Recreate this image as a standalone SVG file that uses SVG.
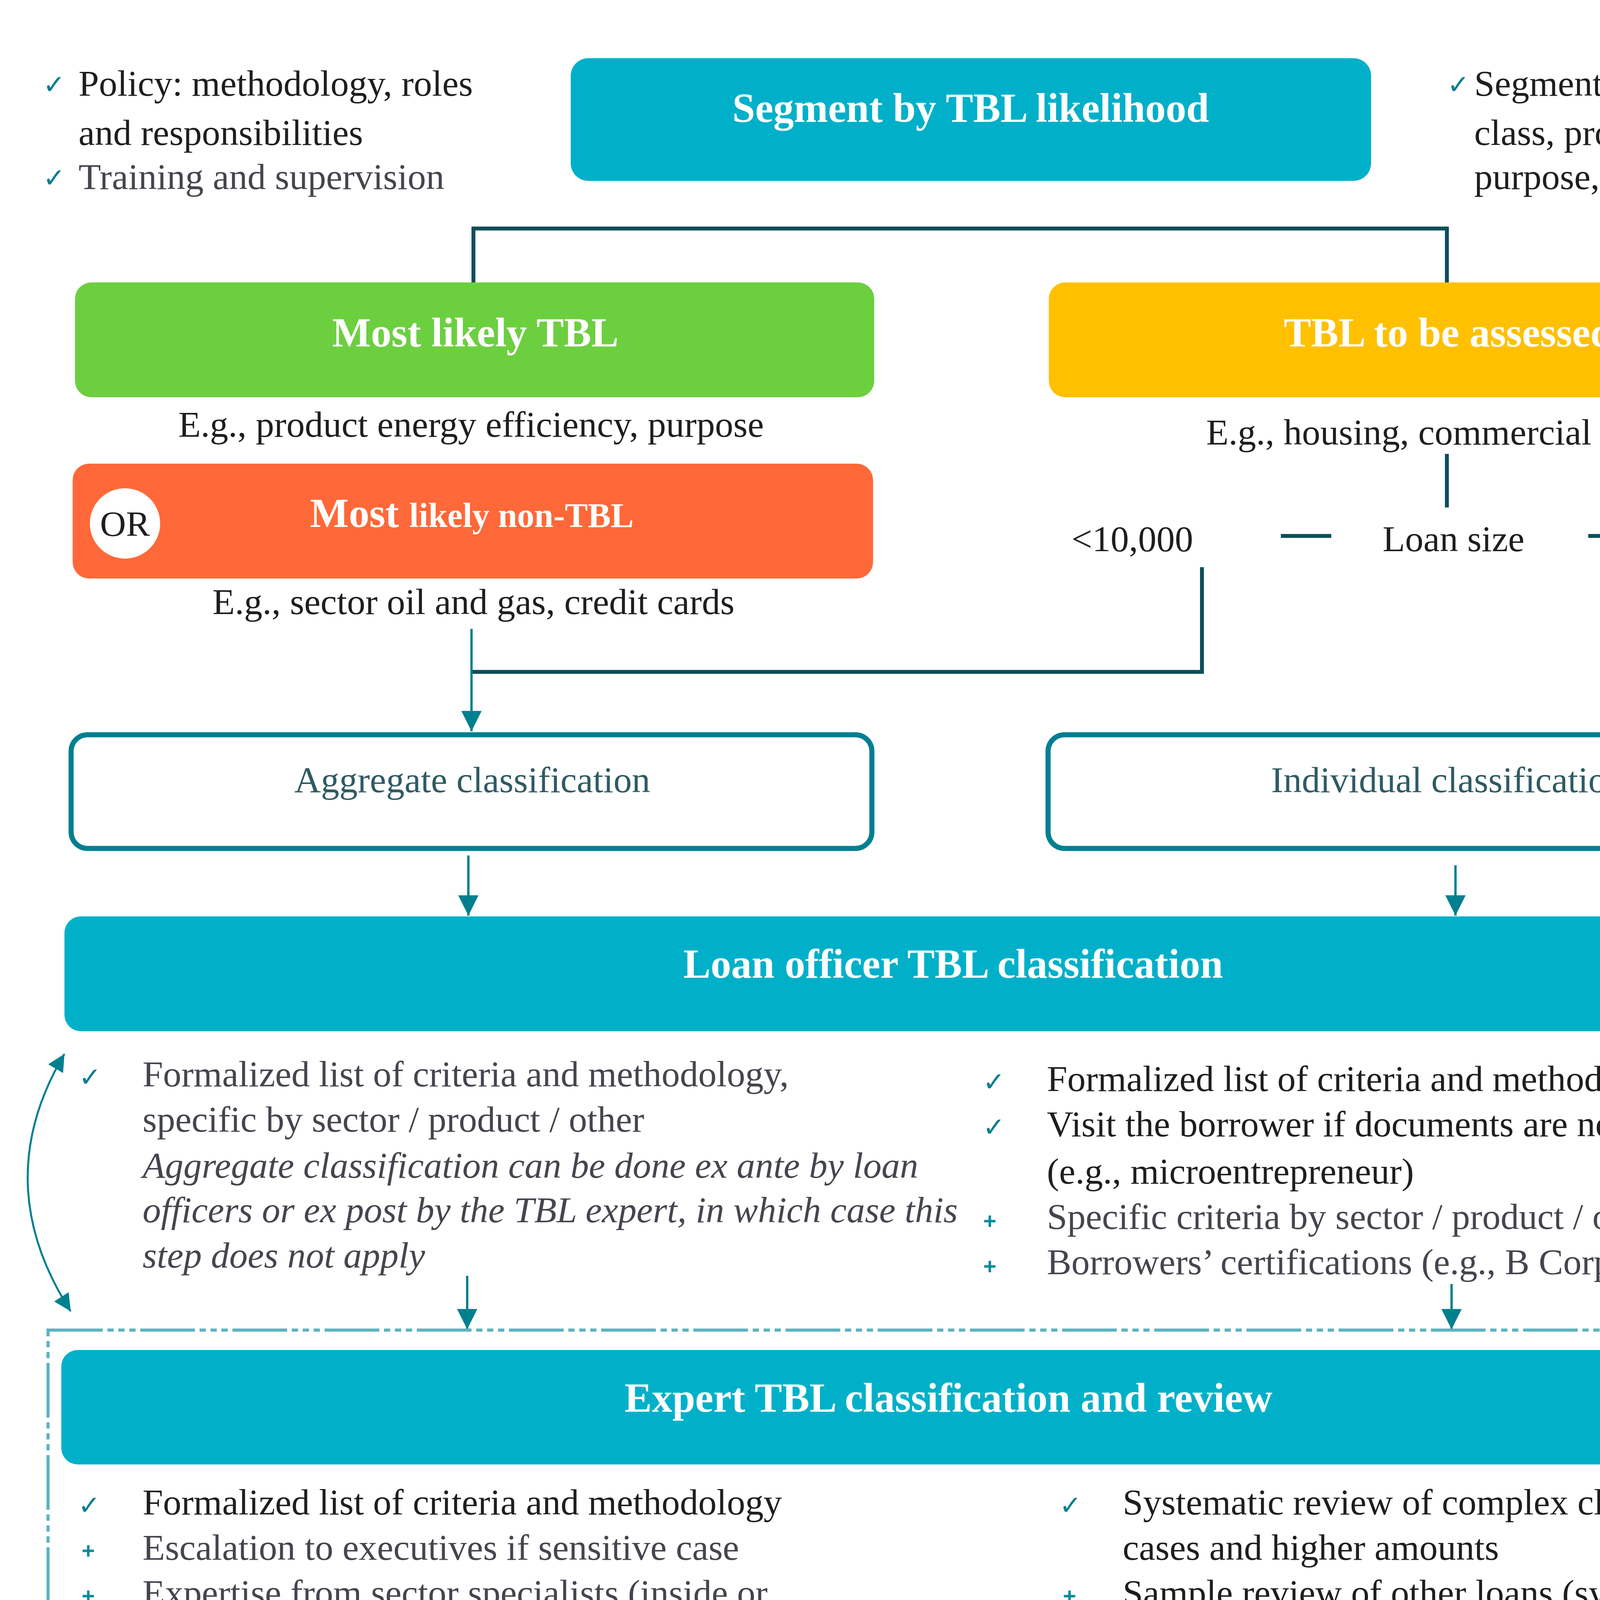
<svg xmlns="http://www.w3.org/2000/svg" width="4936" height="5988" viewBox="0 0 4936 5988">
<style>
text { font-family: "Liberation Serif", "DejaVu Serif", serif; }
.title { font-size: 105px; font-weight: bold; fill: #ffffff; text-anchor: middle; }
.b { font-size: 94px; fill: #1e1e1e; }
.g { font-size: 94px; fill: #45454f; }
.it { font-style: italic; }
.mid { text-anchor: middle; }
.chk { font-family: "DejaVu Sans", sans-serif; font-size: 68px; fill: #0a7f8f; }
.plus { font-family: "Liberation Sans", sans-serif; font-size: 58px; font-weight: bold; fill: #0a8a9a; text-anchor: middle; }
.outl { fill: #ffffff; stroke: #007f91; stroke-width: 13; }
.teal { fill: #00b0c9; }
.dark { fill: none; stroke: #0c4f5b; stroke-width: 10; }
.arr { fill: none; stroke: #00808f; stroke-width: 6; marker-end: url(#ah); }
.cur { fill: none; stroke: #00808f; stroke-width: 5; marker-end: url(#ah2); marker-start: url(#ah2); }
</style>
<defs>
<marker id="ah" viewBox="0 0 10 10" refX="10" refY="5" markerUnits="userSpaceOnUse" markerWidth="58" markerHeight="52" orient="auto-start-reverse">
<path d="M0,0 L10,5 L0,10 z" fill="#00808f"/>
</marker>
<marker id="ah2" viewBox="0 0 10 10" refX="10" refY="5" markerUnits="userSpaceOnUse" markerWidth="50" markerHeight="44" orient="auto-start-reverse">
<path d="M0,0 L10,5 L0,10 z" fill="#00808f"/>
</marker>
</defs>
<rect width="4936" height="5988" fill="#ffffff"/>

<g id="connectors">
<path class="dark" d="M1212,723 V585 H3704 V723"/>
<path class="dark" d="M3704,1162 V1299"/>
<path class="dark" d="M3279,1372 H3408 M4066,1372 H4195"/>
<path class="dark" d="M3077,1452 V1720 H1207"/>
<path class="arr" d="M1207,1610 V1872"/>
<path class="arr" d="M4425,1481 V1872"/>
<path class="arr" d="M1199,2190 V2344"/>
<path class="arr" d="M3726,2215 V2344"/>
<path class="cur" d="M165,2698 Q-31,3027 181,3357"/>
<path class="cur" d="M4758,2698 Q4927,3025 4735,3353"/>
<path class="arr" d="M1196,3266 V3403"/>
<path class="arr" d="M3716,3287 V3403"/>
<path d="M661,4304 V4574" fill="none" stroke="#0c4f5b" stroke-width="4" stroke-dasharray="26 8"/>
<path class="dark" d="M3711,4296 V4412 H1193"/>
<path class="arr" d="M2450,4412 V4595"/>
<path class="arr" d="M2455,4919 V5082"/>
</g>

<g id="note-policy">
<text class="chk" x="110" y="240">✓</text>
<text class="b" x="201" y="245">Policy: methodology, roles</text>
<text class="b" x="201" y="371">and responsibilities</text>
<text class="chk" x="110" y="479">✓</text>
<text class="g" x="201" y="484">Training and supervision</text>
</g>

<g id="node-segment">
<rect class="teal" x="1461" y="149" width="2049" height="314" rx="45"/>
<text class="title" x="2485" y="312">Segment by TBL likelihood</text>
</g>

<g id="note-segment">
<text class="chk" x="3705" y="240">✓</text>
<text class="b" x="3774" y="245">Segment assets by asset</text>
<text class="b" x="3774" y="371">class, product, sector,</text>
<text class="b" x="3774" y="484">purpose, borrower type,</text>
</g>

<g id="node-likely-tbl">
<rect x="192" y="723" width="2046" height="294" rx="42" fill="#6ccf40"/>
<text class="title" x="1217" y="887">Most likely TBL</text>
<text class="b mid" x="1206" y="1118">E.g., product energy efficiency, purpose</text>
</g>

<g id="node-to-assess">
<rect x="2685" y="723" width="2050" height="294" rx="42" fill="#ffc000"/>
<text class="title" x="3708" y="887">TBL to be assessed</text>
<text class="b mid" x="3692" y="1138">E.g., housing, commercial loans</text>
</g>

<g id="node-non-tbl">
<rect x="186" y="1187" width="2049" height="294" rx="42" fill="#ff6838"/>
<circle cx="320" cy="1340" r="90" fill="#ffffff"/>
<text x="320" y="1372" font-size="92" fill="#1e1e1e" text-anchor="middle">OR</text>
<text class="title" x="1208" y="1349">Most <tspan font-size="88">likely non-TBL</tspan></text>
<text class="b mid" x="1212" y="1572">E.g., sector oil and gas, credit cards</text>
</g>

<g id="loan-size">
<text class="b" x="2743" y="1411">&lt;10,000</text>
<text class="b mid" x="3721" y="1411">Loan size</text>
<text class="b" x="4278" y="1411">≥10,000</text>
</g>

<g id="node-aggregate">
<rect class="outl" x="182" y="1881" width="2050" height="291" rx="42"/>
<text x="1209" y="2028" font-size="94" fill="#2f5b63" text-anchor="middle">Aggregate classification</text>
</g>

<g id="node-individual">
<rect class="outl" x="2683" y="1881" width="2046" height="291" rx="42"/>
<text x="3707" y="2028" font-size="94" fill="#2f5b63" text-anchor="middle">Individual classification</text>
</g>

<g id="node-loan-officer">
<rect class="teal" x="165" y="2346" width="4570" height="294" rx="42"/>
<text class="title" x="2440" y="2503">Loan officer TBL classification</text>
<circle cx="4554" cy="2515" r="70" fill="#007a8a"/>
</g>

<g id="note-loan-left">
<text class="chk" x="202" y="2781">✓</text>
<text class="g" x="365" y="2781">Formalized list of criteria and methodology,</text>
<text class="g" x="365" y="2897">specific by sector / product / other</text>
<text class="g it" x="365" y="3015">Aggregate classification can be done ex ante by loan</text>
<text class="g it" x="365" y="3129">officers or ex post by the TBL expert, in which case this</text>
<text class="g it" x="365" y="3245">step does not apply</text>
</g>

<g id="note-loan-right">
<text class="chk" x="2516" y="2793">✓</text>
<text class="b" x="2680" y="2793">Formalized list of criteria and methodology</text>
<text class="chk" x="2516" y="2909">✓</text>
<text class="b" x="2680" y="2909">Visit the borrower if documents are not available</text>
<text class="b" x="2680" y="3030">(e.g., microentrepreneur)</text>
<text class="plus" x="2534" y="3146">+</text>
<text class="g" x="2680" y="3146">Specific criteria by sector / product / other</text>
<text class="plus" x="2534" y="3262">+</text>
<text class="g" x="2680" y="3262">Borrowers’ certifications (e.g., B Corp, green)</text>
</g>

<g id="expert-group">
<rect x="123" y="3405" width="4682" height="858" fill="none" stroke="#5fb3bf" stroke-width="8" stroke-dasharray="140 12 16 12 16 12 16 12"/>
</g>

<g id="node-expert">
<rect class="teal" x="157" y="3456" width="4554" height="293" rx="42"/>
<text class="title" x="2428" y="3614">Expert TBL classification and review</text>
<circle cx="4598" cy="3594" r="63" fill="#ffffff" stroke="#007a8a" stroke-width="14"/>
<circle cx="4511" cy="3592" r="72" fill="#007a8a"/>
</g>

<g id="note-expert-left">
<text class="chk" x="200" y="3877">✓</text>
<text class="b" x="365" y="3877">Formalized list of criteria and methodology</text>
<text class="plus" x="226" y="3990">+</text>
<text class="g" x="365" y="3993">Escalation to executives if sensitive case</text>
<text class="plus" x="226" y="4106">+</text>
<text class="g" x="365" y="4109">Expertise from sector specialists (inside or</text>
<text class="g" x="365" y="4221">outside the bank) for complex cases</text>
</g>

<g id="note-expert-right">
<text class="chk" x="2712" y="3877">✓</text>
<text class="b" x="2874" y="3877">Systematic review of complex classification</text>
<text class="b" x="2874" y="3993">cases and higher amounts</text>
<text class="plus" x="2738" y="4106">+</text>
<text class="b" x="2874" y="4109">Sample review of other loans (system and</text>
<text class="b" x="2874" y="4221">documents)</text>
</g>

<g id="note-document">
<text class="chk" x="372" y="4750">✓</text>
<text class="g mid" x="728" y="4750">Document</text>
<text class="g mid" x="726" y="4865">exceptions,</text>
<text class="g mid" x="726" y="4981">motivations and</text>
<text class="g mid" x="726" y="5104">new criteria to</text>
<text class="g mid" x="726" y="5220">update the</text>
<text class="g mid" x="726" y="5335">methodology</text>
<text class="g mid" x="726" y="5458">yearly</text>
</g>

<g id="node-consolidated">
<rect class="teal" x="1422" y="4597" width="2075" height="308" rx="45"/>
<text class="title" x="2451" y="4759">Consolidated TBL classification</text>
</g>

<g id="node-audit">
<rect class="teal" x="1432" y="5082" width="2052" height="288" rx="45"/>
<text class="title" x="2453" y="5242">TBL audit / rating</text>
</g>

<g id="note-audit">
<text class="plus" x="1503" y="5500">+</text>
<text class="b" x="1645" y="5503">Internal or external audit of compliance of the TBL classification with</text>
<text class="b" x="1645" y="5618">policy</text>
<text class="plus" x="1503" y="5730">+</text>
<text class="b" x="1645" y="5733">Independent rating of adequacy of the TBL classification system</text>
</g>

<g id="legend">
<circle cx="367" cy="5857" r="73" fill="#007a8a"/>
<text class="b" x="480" y="5892">Ex ante</text>
<circle cx="1004" cy="5857" r="63" fill="#ffffff" stroke="#007a8a" stroke-width="14"/>
<text class="b" x="1141" y="5892">Ex post</text>
<text class="chk" x="1672" y="5892">✓</text>
<text class="b" x="1802" y="5892">Necessary component</text>
<text class="plus" x="2980" y="5886">+</text>
<text class="b" x="3121" y="5892">Plus component</text>
<path d="M4035,5866 H4205" stroke="#00808f" stroke-width="6" stroke-dasharray="5 4" fill="none"/>
<path d="M3992,5866 L4040,5838 L4040,5894 z M4247,5866 L4199,5838 L4199,5894 z" fill="#00808f"/>
<text class="b" x="4391" y="5892">Clarify</text>
</g>
</svg>
